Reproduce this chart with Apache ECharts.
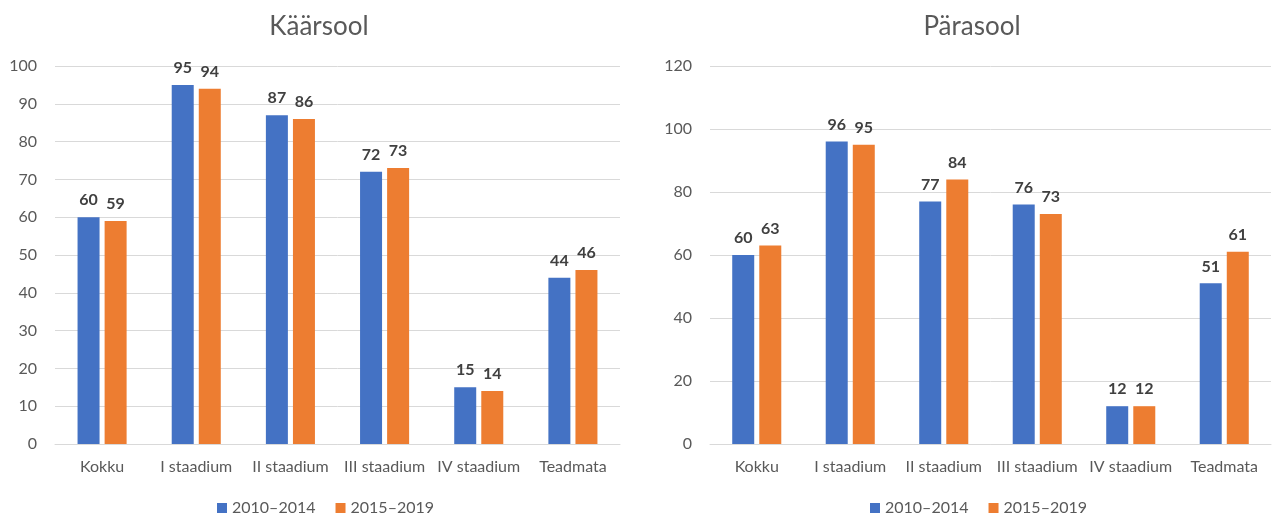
<!DOCTYPE html>
<html><head><meta charset="utf-8">
<script src="https://cdn.jsdelivr.net/npm/echarts@6/dist/echarts.min.js"></script>
<style>html,body{margin:0;padding:0;background:#fff}#c{width:1280px;height:514px}</style>
</head><body><div id="c"></div>
<script>
const categories = ['Kokku','I staadium','II staadium','III staadium','IV staadium','Teadmata'];
const seriesNames = ['2010–2014','2015–2019'];
const kaarsool2010 = [60,95,87,72,15,44];
const kaarsool2015 = [59,94,86,73,14,46];
const parasool2010 = [60,96,77,76,12,51];
const parasool2015 = [63,95,84,73,12,61];
const titles = ['Käärsool','Pärasool'];

const FONT = 'Lato, "Open Sans", sans-serif';
const TXT = '#595959';
const colors = ['#4472C4','#ED7D31'];

function bar(name, data, idx, color){
  return {
    type:'bar', name, data, xAxisIndex:idx, yAxisIndex:idx,
    barWidth:22, barGap:'23%',
    itemStyle:{color},
    label:{show:true, position:'top', distance:9, color:'#404040', fontWeight:'bold', fontSize:16, fontFamily:FONT},
    emphasis:{disabled:true}
  };
}
const xAx = i => ({type:'category', gridIndex:i, data:categories,
  axisLine:{lineStyle:{color:'#D9D9D9'}}, axisTick:{show:false},
  axisLabel:{color:TXT, fontSize:16, fontFamily:FONT, margin:15, interval:0}});
const yAx = (i,max,interval) => ({type:'value', gridIndex:i, min:0, max, interval,
  axisLine:{show:false}, axisTick:{show:false},
  splitLine:{lineStyle:{color:'#D9D9D9'}},
  axisLabel:{color:TXT, fontSize:16, fontFamily:FONT, margin:18}});

const chart = echarts.init(document.getElementById('c'));
chart.setOption({
  animation:false,
  title:[
    {text:titles[0], left:314, top:9, textAlign:'center', textStyle:{color:TXT, fontSize:26, fontWeight:'normal', fontFamily:FONT}},
    {text:titles[1], left:967, top:9, textAlign:'center', textStyle:{color:TXT, fontSize:26, fontWeight:'normal', fontFamily:FONT}}
  ],
  legend:[
    {data:seriesNames, left:212, top:495, itemWidth:10, itemHeight:10, itemGap:20, icon:'rect', textStyle:{color:TXT, fontSize:16, fontFamily:FONT}},
    {data:seriesNames, left:865, top:495, itemWidth:10, itemHeight:10, itemGap:20, icon:'rect', textStyle:{color:TXT, fontSize:16, fontFamily:FONT}}
  ],
  grid:[
    {left:55, right:660, top:66, bottom:70},
    {left:710, right:9, top:66, bottom:70}
  ],
  xAxis:[xAx(0), xAx(1)],
  yAxis:[yAx(0,100,10), yAx(1,120,20)],
  series:[
    bar(seriesNames[0], kaarsool2010, 0, colors[0]),
    bar(seriesNames[1], kaarsool2015, 0, colors[1]),
    bar(seriesNames[0], parasool2010, 1, colors[0]),
    bar(seriesNames[1], parasool2015, 1, colors[1])
  ]
});
</script></body></html>
